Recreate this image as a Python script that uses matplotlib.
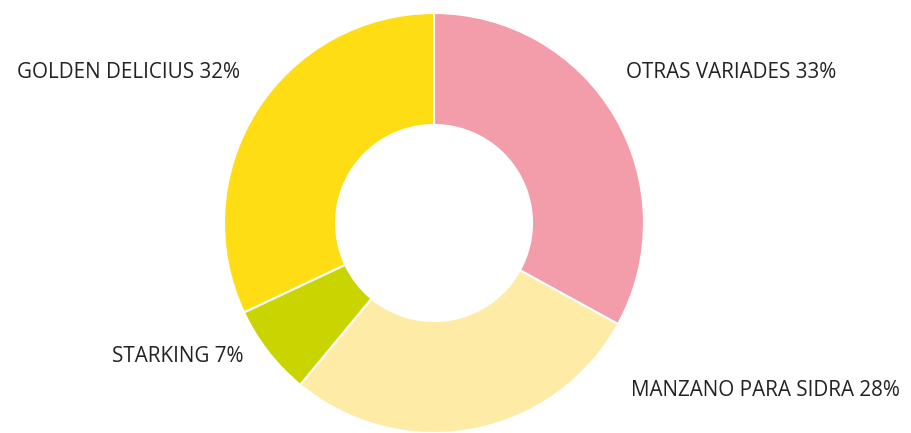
import matplotlib.pyplot as plt

labels = ["OTRAS VARIADES", "MANZANO PARA SIDRA", "STARKING", "GOLDEN DELICIUS"]
values = [33, 28, 7, 32]
colors = ["#F39DAA", "#FEECA6", "#C9D400", "#FEDD15"]

plt.rcParams['font.family'] = ['Open Sans', 'DejaVu Sans']

fig = plt.figure(figsize=(9.11, 4.33), dpi=100)
ax = fig.add_axes([0, 0, 1, 1])

cx, cy, r = 434, 433 - 223, 210
ax.pie(values, colors=colors, startangle=90, counterclock=False,
       center=(cx, cy), radius=r, frame=True,
       wedgeprops=dict(width=112, edgecolor='white', linewidth=1.5))
ax.set_xlim(0, 911)
ax.set_ylim(0, 433)
ax.set_aspect('equal')
ax.axis('off')

# label positions (pixel coords from top-left)
pos = [(626, 73, 'left'), (631, 390, 'left'), (243, 357, 'right'), (17, 73, 'left')]
for (x, y, ha), lab, v in zip(pos, labels, values):
    ax.text(x, 433 - y, f"{lab} {v}%", ha=ha, va='center',
            fontsize=14.9, color='#222222')

fig.savefig("out.png", dpi=100)
